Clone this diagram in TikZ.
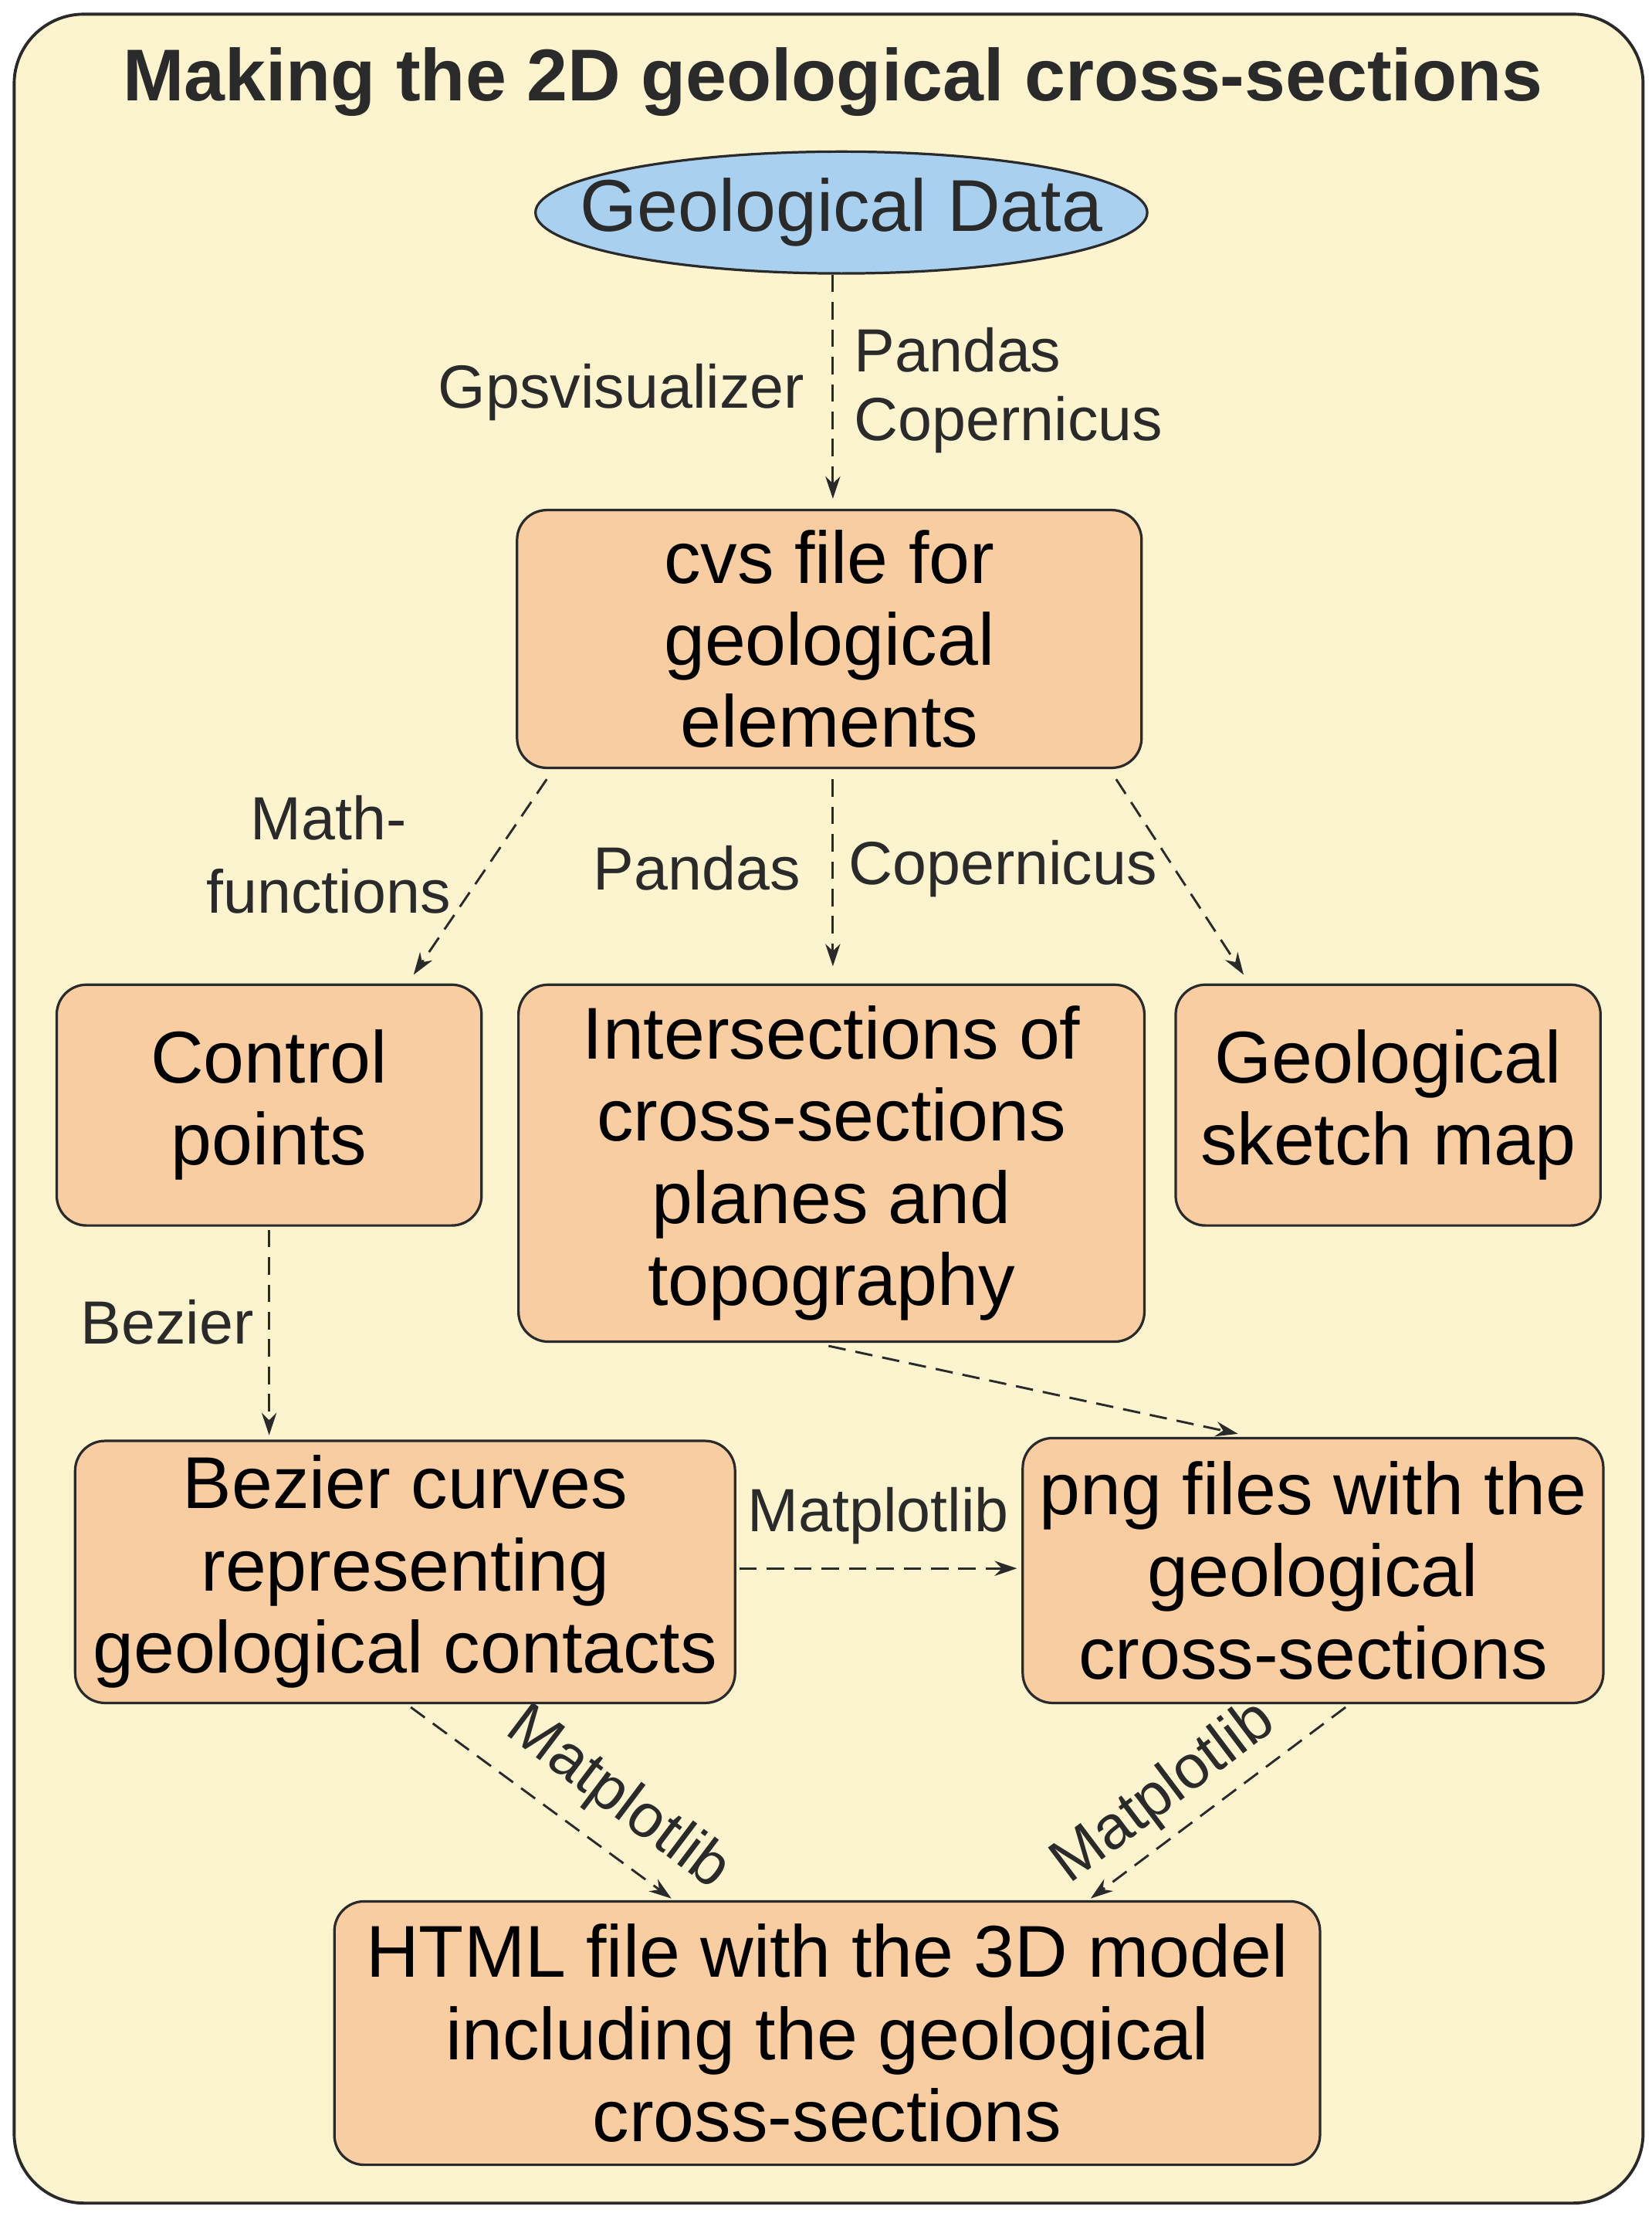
\documentclass[tikz,border=0pt]{standalone}
\usepackage{fontspec}
\setmainfont{Liberation Sans}
\usetikzlibrary{shapes.geometric,arrows.meta,calc}
\definecolor{bg}{HTML}{FCF3CF}
\definecolor{peach}{HTML}{F8CDA2}
\definecolor{sky}{HTML}{A9D1EF}
\definecolor{ink}{HTML}{2A2A2A}
\begin{document}
\begin{tikzpicture}[x=0.02cm,y=-0.02cm,
  boxs/.style={draw=ink,line width=1pt,fill=peach,rounded corners=12pt,align=center,
    font=\fontsize{29.5}{33}\selectfont,inner sep=0pt},
  lab/.style={font=\fontsize{24.5}{29.5}\selectfont,text=ink,inner sep=1pt},
  conn/.style={draw=ink,line width=0.9pt,dash pattern=on 7pt off 4pt,-{Stealth[length=9pt,width=6pt]}}]
\useasboundingbox (0,0) rectangle (1166,1562);
\draw[ink,line width=1.2pt,fill=bg,rounded corners=28pt] (10,10) rectangle (1160,1555);
\node[font=\fontsize{29.5}{34}\selectfont\bfseries,text=ink] (title) at (588,58) {Making the 2D geological cross-sections};
\node[ellipse,draw=ink,line width=1pt,fill=sky,minimum width=8.64cm,minimum height=1.72cm,inner sep=0pt] (data) at (594,150) {};
\node[font=\fontsize{29.5}{33}\selectfont,text=ink] (datatext) at (data.center) {Geological Data};
\node[boxs,minimum width=8.82cm,minimum height=3.64cm] (cvs) at (585.5,451) {cvs file for\\geological\\elements};
\node[boxs,minimum width=6cm,minimum height=3.4cm] (ctrl) at (190,780) {Control\\points};
\node[boxs,minimum width=8.84cm,minimum height=5.04cm] (inter) at (587,821) {Intersections of\\cross-sections\\planes and\\topography};
\node[boxs,minimum width=6cm,minimum height=3.4cm] (sketch) at (980,780) {Geological\\sketch map};
\node[boxs,minimum width=9.32cm,minimum height=3.7cm] (bez) at (286,1109.5) {Bezier curves\\representing\\geological contacts};
\node[boxs,minimum width=8.2cm,minimum height=3.74cm] (png) at (927,1108.5) {png files with the\\geological\\cross-sections};
\node[boxs,minimum width=13.92cm,minimum height=3.72cm] (html) at (584,1435) {HTML file with the 3D model\\including the geological\\cross-sections};
\coordinate (e1) at (588,352);
\draw[conn] (data.south) ++(-6,0) -- (e1);
\coordinate (c1) at (386,550); \coordinate (c2) at (292,688);
\coordinate (c3) at (588,550); \coordinate (c4) at (588,682);
\coordinate (c5) at (788,550); \coordinate (c6) at (878,688);
\draw[conn] (c1) -- (c2);
\draw[conn] (c3) -- (c4);
\draw[conn] (c5) -- (c6);
\coordinate (b1) at (190,868); \coordinate (b2) at (190,1013);
\draw[conn] (b1) -- (b2);
\coordinate (i1) at (585,950); \coordinate (i2) at (874,1012);
\draw[conn] (i1) -- (i2);
\coordinate (m1) at (522,1107); \coordinate (m2) at (718,1107);
\draw[conn] (m1) -- (m2);
\coordinate (h1) at (290,1205); \coordinate (h2) at (474,1340);
\draw[conn] (h1) -- (h2);
\coordinate (h3) at (950,1205); \coordinate (h4) at (770,1340);
\draw[conn] (h3) -- (h4);
\node[lab,anchor=east] (l1) at (570,277) {Gpsvisualizer};
\node[lab,anchor=west] (l2) at (601,247) {Pandas};
\node[lab,anchor=west] (l3) at (601,300) {Copernicus};
\node[lab,align=center] (l4) at (232,603) {Math-\\functions};
\node[lab] (l5) at (492,613) {Pandas};
\node[lab] (l6) at (708,613) {Copernicus};
\node[lab] (l7) at (118,933) {Bezier};
\node[lab] (l8) at (620,1070) {Matplotlib};
\node[lab,rotate=-37] (l9) at (436,1270) {Matplotlib};
\node[lab,rotate=37] (l10) at (822,1266) {Matplotlib};
\end{tikzpicture}
\end{document}
